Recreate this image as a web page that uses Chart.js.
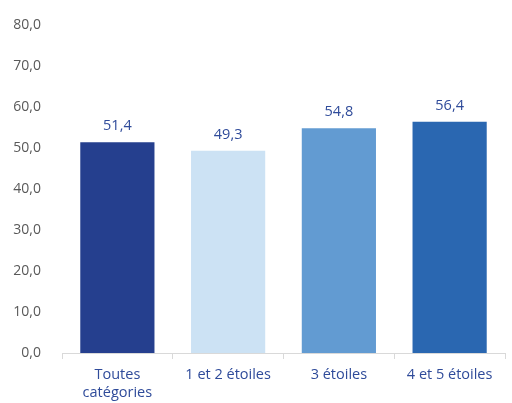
<!DOCTYPE html>
<html>
<head>
<meta charset="utf-8">
<script src="https://cdn.jsdelivr.net/npm/chart.js@4.4.0/dist/chart.umd.min.js"></script>
<style>
  html, body { margin: 0; padding: 0; background: #fff; }
  #wrap { width: 512px; height: 403px; }
</style>
</head>
<body>
<div id="wrap"><canvas id="chart"></canvas></div>
<script>
// données
const categories = [['Toutes', 'catégories'], '1 et 2 étoiles', '3 étoiles', '4 et 5 étoiles'];
const values = [51.4, 49.3, 54.8, 56.4];
const barColors = ['#253f8e', '#cce2f4', '#629bd2', '#2a67b1'];
const yTicks = [0, 10, 20, 30, 40, 50, 60, 70, 80];

const fmt = v => v.toFixed(1).replace('.', ',');

// étiquettes de valeur au-dessus des barres
const valueLabels = {
  id: 'valueLabels',
  afterDatasetsDraw(chart) {
    const c = chart.ctx;
    const meta = chart.getDatasetMeta(0);
    c.save();
    c.font = '14.5px "Open Sans"';
    c.fillStyle = '#2f4b9a';
    c.textAlign = 'center';
    c.textBaseline = 'bottom';
    meta.data.forEach((bar, i) => {
      c.fillText(fmt(values[i]), bar.x, bar.y - 9);
    });
    c.restore();
  }
};

const ctx = document.getElementById('chart').getContext('2d');
new Chart(ctx, {
  type: 'bar',
  data: {
    labels: categories,
    datasets: [{
      data: values,
      backgroundColor: barColors,
      categoryPercentage: 0.67,
      barPercentage: 1
    }]
  },
  options: {
    responsive: true,
    maintainAspectRatio: false,
    animation: false,
    layout: { padding: { top: 25, right: 7, left: 0, bottom: 0 } },
    plugins: {
      legend: { display: false },
      tooltip: { enabled: false }
    },
    scales: {
      x: {
        afterFit: axis => { axis.height = 50; },
        grid: {
          offset: true,
          drawOnChartArea: false,
          drawTicks: true,
          tickLength: 6,
          color: '#d9d9d9'
        },
        border: { color: '#d9d9d9', width: 1 },
        ticks: {
          color: '#2f4b9a',
          font: { family: 'Open Sans', size: 14.5, lineHeight: 1.3 },
          padding: 6,
          maxRotation: 0,
          autoSkip: false
        }
      },
      y: {
        min: 0,
        max: 80,
        afterBuildTicks: axis => { axis.ticks = yTicks.map(v => ({ value: v })); },
        afterFit: axis => { axis.width = 62; },
        grid: { display: false },
        border: { display: false },
        ticks: {
          color: '#595959',
          font: { family: 'Open Sans', size: 14 },
          padding: 13,
          callback: v => fmt(v)
        }
      }
    }
  },
  plugins: [valueLabels]
});
</script>
</body>
</html>
